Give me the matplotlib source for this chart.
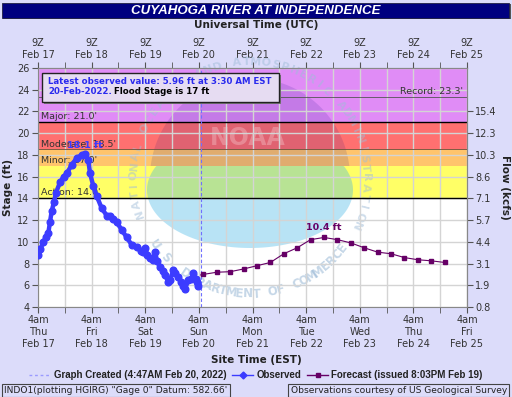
import matplotlib
matplotlib.use("Agg")
import matplotlib.pyplot as plt
import numpy as np
from matplotlib.patches import Rectangle, Polygon
from matplotlib.lines import Line2D
from matplotlib.transforms import Affine2D

# hours after 4am EST Thu Feb 17 2022 (= 9Z)
obs_hours = [0, 1, 2.4, 3.5, 4.6, 5.4, 6.1, 7.2, 8, 9.9, 11.5, 12.9, 15.1, 17.3, 19.6, 21,
             22.5, 23.3, 24.8, 26.3, 28.5, 30.8, 32.2, 33.5, 35.2, 37.5, 39.7, 42, 44.2, 46,
             47.2, 47.9, 49, 50.2, 51.5, 52.4, 53.3, 54.6, 56, 56.9, 58.3, 59.1, 60.6, 61.5,
             62.8, 64, 65, 65.8, 67.3, 68.5, 69.5, 70.5, 71.1, 71.5]
obs_stage = [8.8, 9.3, 10.0, 10.4, 10.8, 11.85, 12.8, 13.7, 14.5, 15.5, 16.0, 16.3, 17.1, 17.7, 18.0, 18.1,
             17.5, 16.3, 15.1, 14.2, 13.1, 12.4, 12.4, 12.1, 11.8, 11.1, 10.4, 9.7, 9.5, 9.2,
             9.1, 9.4, 8.8, 8.5, 8.3, 9.1, 8.2, 7.7, 7.3, 6.95, 6.3, 6.5, 7.4, 7.1,
             6.8, 6.3, 5.9, 5.65, 6.5, 6.6, 7.1, 6.6, 6.3, 5.96]

fcst_hours = [72.8, 74, 80, 86, 92, 98, 104, 110, 116, 122, 128, 134, 140, 146, 152, 158, 164, 170, 176, 182]
fcst_stage = [6.95, 7.0, 7.2, 7.25, 7.5, 7.8, 8.1, 8.9, 9.45, 10.2, 10.4, 10.2, 9.9, 9.45, 9.05, 8.9, 8.55, 8.35, 8.25, 8.1]

day_names = ["Thu", "Fri", "Sat", "Sun", "Mon", "Tue", "Wed", "Thu", "Fri"]
day_dates = ["Feb 17", "Feb 18", "Feb 19", "Feb 20", "Feb 21", "Feb 22", "Feb 23", "Feb 24", "Feb 25"]
flow_ticks = [4, 6, 8, 10, 12, 14, 16, 18, 20, 22]
flow_labels = ["0.8", "1.9", "3.1", "4.4", "5.7", "7.1", "8.6", "10.3", "12.3", "15.4"]

cat_names = ["Action", "Minor", "Moderate", "Major"]
cat_levels = [14.0, 17.0, 18.5, 21.0]
cat_colors = ["#ffff66", "#ffc46c", "#ff7070", "#e08cf6"]
record_stage = 23.3
created_hour = 72.78

BG = "#dcdcfa"
OBS = "#3c3cff"
FC = "#660066"

fig = plt.figure(figsize=(5.12, 3.97), dpi=100, facecolor=BG)
ax = fig.add_axes([38/512, 1-307/397, 429/512, 239/397])
ax.set_xlim(0, 192)
ax.set_ylim(4, 26)
ax.set_facecolor("white")

# pixel-style helpers for decoration
T = Affine2D().scale(1/429, -1/239).translate(-38/429, 307/239) + ax.transAxes
FT = Affine2D().scale(1/512, -1/397).translate(0, 1) + fig.transFigure

# flood bands
tops = cat_levels[1:] + [26]
for lvl, top, c in zip(cat_levels, tops, cat_colors):
    ax.axhspan(lvl, top, color=c, lw=0, zorder=0.8)
for name, lvl in zip(cat_names, cat_levels):
    ax.text(1.5, lvl + 0.08, f"{name}: {lvl:.1f}'", fontsize=6.8, color="#333333", va="bottom", zorder=3)
ax.axhline(14, color="black", lw=1, zorder=1.6)
ax.axhline(18.5, color="#6a4a3a", lw=0.6, zorder=1.6)
ax.axhline(21, color="black", lw=1, zorder=1.6)
ax.axhline(record_stage, color="#555555", lw=0.6, zorder=1.6)
ax.text(190, record_stage + 0.1, f"Record: {record_stage}'", fontsize=6.8, color="#333333",
        ha="right", va="bottom", zorder=3)

# NOAA watermark
cx, cy, r = 250, 178, 100
t = np.linspace(0, 2*np.pi, 300)
xs = cx + r*np.cos(t)
ys = cy + r*np.sin(t)
ax.add_patch(Polygon(np.c_[xs, np.minimum(ys, 166)], closed=True, transform=T,
                     facecolor="#000080", alpha=0.12, lw=0, zorder=1.2))
ex = 250 + 103*np.cos(t)
ey = 190 + 58*np.sin(t)
ax.add_patch(Polygon(np.c_[ex, np.maximum(ey, 166)], closed=True, transform=T,
                     facecolor="#3cb4e6", alpha=0.36, lw=0, zorder=1.2))
ax.text(248, 138, "NOAA", transform=T, fontsize=17, fontweight="bold", color="white",
        alpha=0.25, ha="center", va="center", zorder=1.3)
R = 116
top_txt = "NATIONAL OCEANIC AND ATMOSPHERIC ADMINISTRATION"
for i, ch in enumerate(top_txt):
    phi = np.radians(198 - i*222/(len(top_txt)-1))
    ax.text(cx + R*np.cos(phi), cy - R*np.sin(phi), ch, transform=T, fontsize=8,
            fontweight="bold", color="#9fbcd8", alpha=0.5, ha="center", va="center",
            rotation=np.degrees(phi) - 90, zorder=1.3)
bot_txt = "U.S. DEPARTMENT OF COMMERCE"
for i, ch in enumerate(bot_txt):
    phi = np.radians(215 + i*108/(len(bot_txt)-1))
    ax.text(cx + R*np.cos(phi), cy - R*np.sin(phi), ch, transform=T, fontsize=8.5,
            fontweight="bold", color="#9fbcd8", alpha=0.6, ha="center", va="center",
            rotation=np.degrees(phi) + 90, zorder=1.3)

# grid and ticks
ax.set_xticks(range(0, 193, 24))
ax.set_xticks(range(12, 193, 24), minor=True)
ax.set_yticks(range(4, 27, 2))
ax.grid(True, which="both", axis="x", color="#d4d4d4", lw=1)
ax.grid(True, which="major", axis="y", color="#d4d4d4", lw=1)
ax.set_xticklabels([f"4am\n{d}\n{dt}" for d, dt in zip(day_names, day_dates)])
ax.tick_params(axis="both", which="both", direction="out", length=4, color="#555555",
               labelsize=7, labelcolor="#333333", pad=2)
for s in ax.spines.values():
    s.set_color("#888888")

top = ax.secondary_xaxis("top")
top.set_xticks(range(0, 193, 24))
top.set_xticks(range(12, 193, 24), minor=True)
top.set_xticklabels([f"9Z\n{dt}" for dt in day_dates])
top.tick_params(which="both", direction="out", length=4, color="#555555",
                labelsize=7, labelcolor="#333333", pad=2)
top.spines["top"].set_color("#888888")

right = ax.secondary_yaxis("right")
right.set_yticks(flow_ticks)
right.set_yticklabels(flow_labels)
right.tick_params(direction="out", length=4, color="#555555", labelsize=7,
                  labelcolor="#333333", pad=2)
right.spines["right"].set_color("#888888")

# data
ax.axvline(created_hour, color="#7070ff", lw=0.8, ls=(0, (3, 2)), zorder=2)
obs_line, = ax.plot(obs_hours, obs_stage, color=OBS, lw=3.2, marker="o", ms=4.8, zorder=4)
fc_line, = ax.plot(fcst_hours, fcst_stage, color=FC, lw=0.8, marker="s", ms=3.2,
                   markevery=range(1, len(fcst_hours)), zorder=4)
pk = int(np.argmax(obs_stage))
ax.annotate(f"{obs_stage[pk]:.1f} ft", (obs_hours[pk], obs_stage[pk]), xytext=(0, 3),
            textcoords="offset points", ha="center", va="bottom", fontsize=6.8,
            fontweight="bold", color=OBS, zorder=5)
fk = int(np.argmax(fcst_stage))
ax.annotate(f"{fcst_stage[fk]:.1f} ft", (fcst_hours[fk], fcst_stage[fk]), xytext=(0, 4),
            textcoords="offset points", ha="center", va="bottom", fontsize=6.8,
            fontweight="bold", color=FC, zorder=5)

# info box
ax.add_patch(Rectangle((44, 75), 237, 29, transform=T, facecolor="#777777", lw=0, zorder=5))
ax.add_patch(Rectangle((42, 73), 237, 29, transform=T, facecolor="#e6dcf2",
                       edgecolor="#222222", lw=1, zorder=5.1))
ax.text(48, 81, f"Latest observed value: {obs_stage[-1]:.2f} ft at 3:30 AM EST", transform=T,
        fontsize=6.2, fontweight="bold", color="#2a2aee", va="center", zorder=6)
ax.text(48, 92, "20-Feb-2022.", transform=T, fontsize=6.2, fontweight="bold",
        color="#2a2aee", va="center", zorder=6)
ax.text(114, 92, "Flood Stage is 17 ft", transform=T, fontsize=6.2, fontweight="bold",
        color="black", va="center", zorder=6)

# title bar
fig.patches.append(Rectangle((3, 4), 508, 15, transform=FT, facecolor="#555555", lw=0))
fig.patches.append(Rectangle((2, 3), 507, 15, transform=FT, facecolor="#000080",
                             edgecolor="#222244", lw=0.6))
fig.text(256, 10.8, "CUYAHOGA RIVER AT INDEPENDENCE", transform=FT, ha="center", va="center",
         color="white", fontsize=9.5, fontweight="bold", style="italic",
         family=["Liberation Sans", "DejaVu Sans"])

fig.text(256, 25, "Universal Time (UTC)", transform=FT, ha="center", va="center",
         fontsize=7.5, fontweight="bold", color="#222222")
fig.text(256, 360, "Site Time (EST)", transform=FT, ha="center", va="center",
         fontsize=7.5, fontweight="bold", color="#222222")
fig.text(8, 187, "Stage (ft)", transform=FT, ha="center", va="center", rotation=90,
         fontsize=7.5, fontweight="bold", color="#222222")
fig.text(505, 187, "Flow (kcfs)", transform=FT, ha="center", va="center", rotation=-90,
         fontsize=7.5, fontweight="bold", color="#222222")

created_h = Line2D([], [], color="#9a9aff", lw=1, ls=(0, (2, 2)))
obs_h = Line2D([], [], color=OBS, lw=1, marker="D", ms=3.5)
fc_h = Line2D([], [], color=FC, lw=1, marker="s", ms=3)
fig.legend([created_h, obs_h, fc_h],
           ["Graph Created (4:47AM Feb 20, 2022)", "Observed", "Forecast (issued 8:03PM Feb 19)"],
           loc="center", bbox_to_anchor=(256/512, 1-375/397), ncol=3, frameon=False,
           prop={"family": ["Liberation Sans Narrow", "Liberation Sans"], "weight": "bold", "size": 7},
           handlelength=2.2, columnspacing=0.6, handletextpad=0.3, labelcolor="#222222")

fig.text(4, 390.5, "INDO1(plotting HGIRG) \"Gage 0\" Datum: 582.66'", transform=FT,
         va="center", fontsize=6.6, color="#222222",
         bbox=dict(boxstyle="square,pad=0.25", facecolor=BG, edgecolor="#444444", lw=0.8))
fig.text(507, 390.5, "Observations courtesy of US Geological Survey", transform=FT,
         va="center", ha="right", fontsize=6.6, color="#222222",
         bbox=dict(boxstyle="square,pad=0.25", facecolor=BG, edgecolor="#444444", lw=0.8))

fig.savefig("out.png", dpi=100, facecolor=BG)
